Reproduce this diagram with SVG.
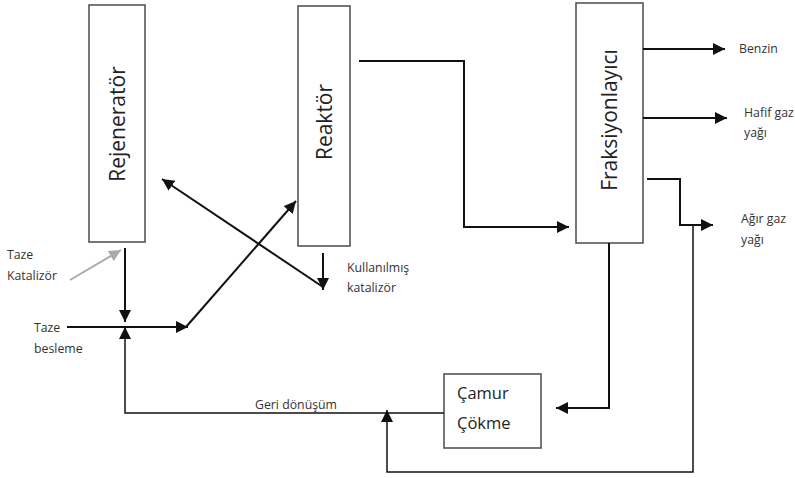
<svg xmlns="http://www.w3.org/2000/svg" width="795" height="478" viewBox="0 0 795 478">
<style>
.box{fill:#fff;stroke:#555;stroke-width:1.6}
.ln{fill:none;stroke:#111;stroke-width:2}
.big{font-family:"Open Sans","Liberation Sans",sans-serif;font-size:21px;fill:#222}
.sm{font-family:"Open Sans","Liberation Sans",sans-serif;font-size:12.3px;fill:#333}
.mid{font-family:"Open Sans","Liberation Sans",sans-serif;font-size:16.5px;fill:#222}
</style>
<defs>
<marker id="ahs" viewBox="0 0 10 10" refX="10" refY="5" markerWidth="12" markerHeight="12" markerUnits="userSpaceOnUse" orient="auto"><path d="M0,0 L10,5 L0,10 z" fill="#111"/></marker>
<marker id="ahg" viewBox="0 0 10 10" refX="10" refY="5" markerWidth="12" markerHeight="12" markerUnits="userSpaceOnUse" orient="auto"><path d="M0,0 L10,5 L0,10 z" fill="#aaa"/></marker>
</defs>
<g id="rejenerator">
<rect class="box" x="89" y="5" width="56" height="237"/>
<text class="big" transform="translate(125,124) rotate(-90)" text-anchor="middle">Rejeneratör</text>
</g>
<g id="reaktor">
<rect class="box" x="298" y="6" width="52" height="240"/>
<text class="big" transform="translate(332,122) rotate(-90)" text-anchor="middle">Reaktör</text>
</g>
<g id="fraksiyonlayici">
<rect class="box" x="576" y="3" width="67" height="240"/>
<text class="big" transform="translate(617,120) rotate(-90)" text-anchor="middle">Fraksiyonlayıcı</text>
</g>
<g id="camur">
<rect class="box" x="444" y="374" width="97" height="74"/>
<text class="mid" x="457" y="399">Çamur</text>
<text class="mid" x="457" y="429">Çökme</text>
</g>
<g id="labels">
<text class="sm" x="7" y="259">Taze</text>
<text class="sm" x="7" y="280">Katalizör</text>
<text class="sm" x="34" y="332">Taze</text>
<text class="sm" x="34" y="353">besleme</text>
<text class="sm" x="347" y="272">Kullanılmış</text>
<text class="sm" x="347" y="292">katalizör</text>
<text class="sm" x="739" y="53">Benzin</text>
<text class="sm" x="744" y="117">Hafif gaz</text>
<text class="sm" x="744" y="137">yağı</text>
<text class="sm" x="741" y="223">Ağır gaz</text>
<text class="sm" x="741" y="244">yağı</text>
<text class="sm" x="255" y="409">Geri dönüşüm</text>
</g>
<g id="connectors">
<path class="ln" d="M359,61 H464 V227 H569" marker-end="url(#ahs)"/>
<path class="ln" d="M643,49 H725" marker-end="url(#ahs)"/>
<path class="ln" d="M643,118 H727" marker-end="url(#ahs)"/>
<path class="ln" d="M647,179 H680 V225 H713" marker-end="url(#ahs)"/>
<path class="ln" d="M693,225 V472 H387 V410" marker-end="url(#ahs)" style="stroke-width:1.5"/>
<path class="ln" d="M609,243 V408 H556" marker-end="url(#ahs)"/>
<path class="ln" style="stroke-width:1.5" d="M444,413 H125 V327" marker-end="url(#ahs)"/>
<path class="ln" d="M125,248 V322" marker-end="url(#ahs)"/>
<path class="ln" d="M67,327 H188" marker-end="url(#ahs)"/>
<path class="ln" d="M186,327 L296,201" marker-end="url(#ahs)"/>
<path class="ln" d="M323,287 L162,179" marker-end="url(#ahs)"/>
<path class="ln" d="M323,253 V290" marker-end="url(#ahs)"/>
<path fill="none" stroke="#aaa" stroke-width="2" d="M70,280 L121,250" marker-end="url(#ahg)"/>
</g>
</svg>
